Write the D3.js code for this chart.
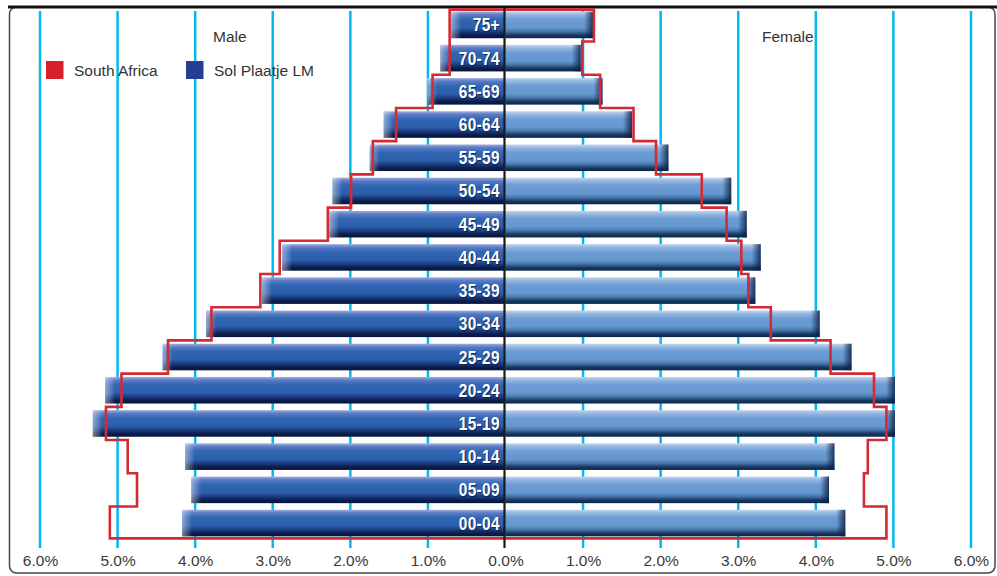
<!DOCTYPE html>
<html><head><meta charset="utf-8">
<script src="https://cdn.jsdelivr.net/npm/d3@7"></script>
<style>body{margin:0;background:#fff} svg{display:block}</style>
</head><body><svg id="c" width="997" height="576"></svg>
<script>
// ---- data ----
const ageGroups = ["75+","70-74","65-69","60-64","55-59","50-54","45-49","40-44","35-39","30-34","25-29","20-24","15-19","10-14","05-09","00-04"];
const solMale   = [0.70,0.84,1.01,1.57,1.75,2.23,2.27,2.88,3.14,3.86,4.42,5.16,5.32,4.13,4.05,4.17];
const solFemale = [1.13,0.97,1.25,1.63,2.10,2.91,3.11,3.29,3.22,4.05,4.46,5.02,5.02,4.24,4.17,4.38];
const saMale    = [0.72,0.72,0.94,1.41,1.71,1.99,2.29,2.91,3.16,3.79,4.35,4.95,5.15,4.87,4.75,5.10];
const saFemale  = [1.14,0.99,1.22,1.65,1.94,2.53,2.85,3.04,3.13,3.42,4.19,4.75,4.91,4.67,4.62,4.91];
const tickValues = [-6,-5,-4,-3,-2,-1,0,1,2,3,4,5,6];
const seriesNames = ["South Africa","Sol Plaatje LM"];
const sideTitles = ["Male","Female"];

const svg = d3.select("#c");
const zero = 505.5, pxPer = 77.58;
const x = d3.scaleLinear().domain([-6,6]).range([zero-6*pxPer, zero+6*pxPer]);
const y = d3.scaleBand().domain(ageGroups).range([5,543]).paddingInner(0.2).paddingOuter(0.2);
const bw = y.bandwidth();
const font = "'Liberation Sans', Arial, sans-serif";

// gradients
const defs = svg.append("defs");
function vgrad(id, stops){
  const g = defs.append("linearGradient").attr("id",id).attr("x1",0).attr("y1",0).attr("x2",0).attr("y2",1);
  stops.forEach(s=>g.append("stop").attr("offset",s[0]).attr("stop-color",s[1]));
}
vgrad("gm",[[0,"#a3aedb"],[0.12,"#5a7cc5"],[0.3,"#3066b3"],[0.6,"#2c5eab"],[0.74,"#1c3f82"],[0.88,"#0b1e4f"],[1,"#06143a"]]);
vgrad("gf",[[0,"#c3d5ee"],[0.12,"#95b7e0"],[0.3,"#6c9cd4"],[0.6,"#6498d0"],[0.74,"#4a78ab"],[0.88,"#173b66"],[1,"#0b2446"]]);
const hl = defs.append("linearGradient").attr("id","capL").attr("x1",0).attr("x2",1).attr("y1",0).attr("y2",0);
hl.append("stop").attr("offset",0).attr("stop-color","#ffffff").attr("stop-opacity",0.45);
hl.append("stop").attr("offset",1).attr("stop-color","#ffffff").attr("stop-opacity",0);
const hr = defs.append("linearGradient").attr("id","capR").attr("x1",0).attr("x2",1).attr("y1",0).attr("y2",0);
hr.append("stop").attr("offset",0).attr("stop-color","#0a2145").attr("stop-opacity",0);
hr.append("stop").attr("offset",1).attr("stop-color","#0a2145").attr("stop-opacity",0.85);

// frame
svg.append("rect").attr("x",9.5).attr("y",7).attr("width",985.5).attr("height",566).attr("rx",7)
  .attr("fill","none").attr("stroke","#444").attr("stroke-width",1.5);
svg.append("line").attr("x1",8).attr("x2",997).attr("y1",7).attr("y2",7).attr("stroke","#111").attr("stroke-width",3);

// gridlines
svg.append("g").selectAll("line").data(tickValues.filter(d=>d!==0)).join("line")
  .attr("x1",d=>x(d)).attr("x2",d=>x(d)).attr("y1",11).attr("y2",548)
  .attr("stroke","#00b9ee").attr("stroke-width",2.5);

// bars
const rows = ageGroups.map((a,i)=>({a, m:solMale[i], f:solFemale[i]}));
const gb = svg.append("g");
gb.selectAll(".bm").data(rows).join("rect").attr("class","bm")
  .attr("x",d=>x(-d.m)).attr("y",d=>y(d.a)).attr("width",d=>zero-x(-d.m)).attr("height",bw).attr("fill","url(#gm)");
gb.selectAll(".cm").data(rows).join("rect").attr("class","cm")
  .attr("x",d=>x(-d.m)).attr("y",d=>y(d.a)).attr("width",10).attr("height",bw).attr("fill","url(#capL)");
gb.selectAll(".bf").data(rows).join("rect").attr("class","bf")
  .attr("x",zero).attr("y",d=>y(d.a)).attr("width",d=>x(d.f)-zero).attr("height",bw).attr("fill","url(#gf)");
gb.selectAll(".cf").data(rows).join("rect").attr("class","cf")
  .attr("x",d=>x(d.f)-9).attr("y",d=>y(d.a)).attr("width",9).attr("height",bw).attr("fill","url(#capR)");

// South Africa outline
const n = ageGroups.length;
const topB = i => i===0 ? y(ageGroups[0])-2 : (y(ageGroups[i-1])+bw+y(ageGroups[i]))/2;
const botB = i => i===n-1 ? y(ageGroups[n-1])+bw+2 : (y(ageGroups[i])+bw+y(ageGroups[i+1]))/2;
const pts = [];
for(let i=0;i<n;i++){ pts.push([x(saFemale[i]),topB(i)]); pts.push([x(saFemale[i]),botB(i)]); }
for(let i=n-1;i>=0;i--){ pts.push([x(-saMale[i]),botB(i)]); pts.push([x(-saMale[i]),topB(i)]); }
svg.append("path").attr("d",d3.line()(pts)+"Z").attr("fill","none")
  .attr("stroke","#d42a35").attr("stroke-width",2.6).attr("stroke-linejoin","miter");

// center line
svg.append("line").attr("x1",zero-1).attr("x2",zero-1).attr("y1",7).attr("y2",548)
  .attr("stroke","#1a1a1a").attr("stroke-width",2.2);

// age labels (condensed bold)
const gl = svg.append("g").attr("font-family",font).attr("font-weight","bold").attr("font-size",18)
  .attr("text-anchor","end").attr("letter-spacing","0.4px");
gl.selectAll(".sh").data(ageGroups).join("text").attr("class","sh")
  .attr("transform",d=>`translate(501,${y(d)+bw/2+7.5}) scale(0.86,1)`).attr("fill","#0a1a40").attr("opacity",0.75).text(d=>d);
gl.selectAll(".lb").data(ageGroups).join("text").attr("class","lb")
  .attr("transform",d=>`translate(500,${y(d)+bw/2+6.5}) scale(0.86,1)`).attr("fill","#ffffff").text(d=>d);

// axis
const ax = svg.append("g").attr("transform","translate(0,548)")
  .call(d3.axisBottom(x).tickValues(tickValues).tickSize(0).tickPadding(7)
    .tickFormat(d=>Math.abs(d).toFixed(1)+"%"));
ax.select(".domain").remove();
ax.selectAll("text").attr("font-family",font).attr("font-size",15.5).attr("fill","#3a3a3a");

// titles
svg.append("text").attr("x",213).attr("y",42).attr("font-family",font).attr("font-size",15.5).attr("fill","#333").text(sideTitles[0]);
svg.append("text").attr("x",762).attr("y",42).attr("font-family",font).attr("font-size",15.5).attr("fill","#333").text(sideTitles[1]);

// legend
const legColors = ["#d6212b","#263e92"];
const legX = [46,186];
const lg = svg.append("g");
seriesNames.forEach((s,i)=>{
  lg.append("rect").attr("x",legX[i]).attr("y",61).attr("width",17.5).attr("height",18).attr("fill",legColors[i]);
  lg.append("text").attr("x",legX[i]+28).attr("y",75.5).attr("font-family",font).attr("font-size",15.5).attr("fill","#333").text(s);
});
</script></body></html>
